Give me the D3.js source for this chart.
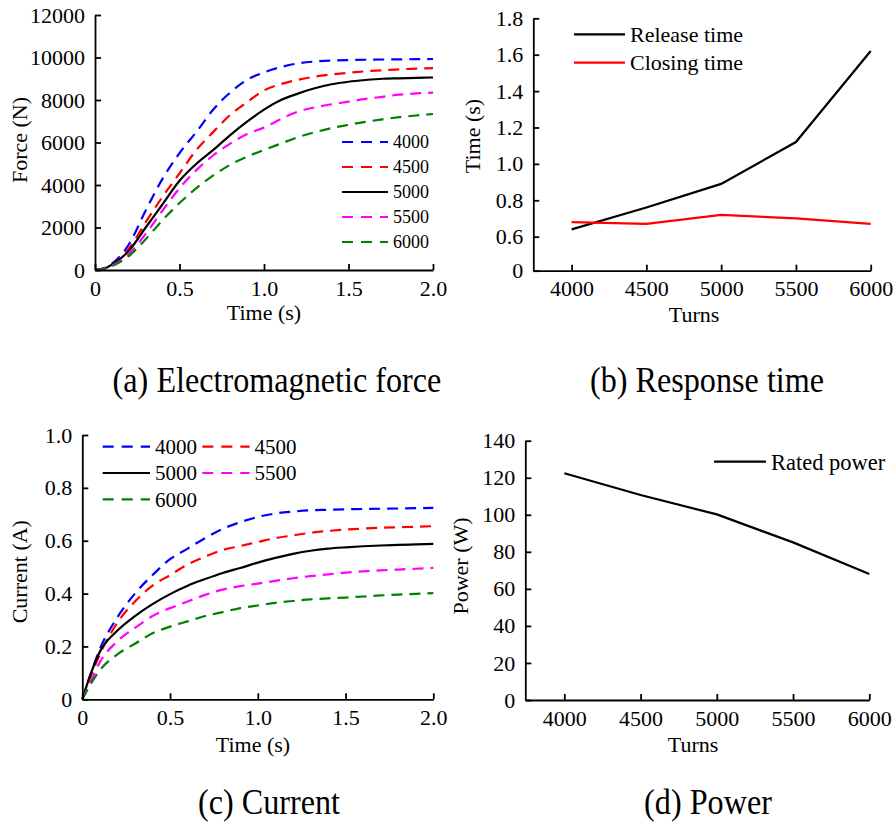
<!DOCTYPE html>
<html>
<head>
<meta charset="utf-8">
<script src="https://cdn.jsdelivr.net/npm/d3@7"></script>
<style>
  body { margin: 0; background: #fff; }
  svg, svg text { font-family: "Liberation Serif", "Times New Roman", serif; }
  svg { display: block; }
</style>
</head>
<body>
<svg id="chart" width="894" height="827"></svg>
<script>
// ---- data ----
const turnLabels = ["4000", "4500", "5000", "5500", "6000"];
const turnColors = ["#0000ff", "#ff0000", "#000000", "#ff00ff", "#008000"];

const timeSteps = [0, 0.05, 0.1, 0.2, 0.3, 0.4, 0.5, 0.6, 0.7, 0.8, 0.9, 1.0,
  1.1, 1.2, 1.3, 1.4, 1.5, 1.6, 1.7, 1.8, 1.9, 2.0];

const force4000 = [0, 80, 300, 1200, 2800, 4300, 5500, 6500, 7550, 8350, 8950, 9300, 9550, 9720, 9810, 9860, 9880, 9895, 9905, 9915, 9920, 9930];
const force4500 = [0, 70, 250, 1000, 2250, 3450, 4550, 5650, 6500, 7300, 7900, 8450, 8750, 8950, 9100, 9200, 9280, 9350, 9400, 9440, 9480, 9500];
const force5000 = [0, 50, 250, 900, 2000, 3100, 4200, 5000, 5650, 6350, 6980, 7550, 8000, 8300, 8550, 8740, 8860, 8940, 9000, 9020, 9040, 9060];
const force5500 = [0, 50, 200, 750, 1700, 2800, 3850, 4700, 5400, 5950, 6400, 6700, 7100, 7450, 7650, 7800, 7920, 8050, 8150, 8250, 8310, 8350];
const force6000 = [0, 40, 180, 650, 1450, 2350, 3150, 3850, 4450, 4950, 5330, 5650, 5950, 6250, 6480, 6680, 6830, 6970, 7090, 7190, 7270, 7340];

const current4000 = [0, 0.1, 0.19, 0.31, 0.4, 0.47, 0.53, 0.57, 0.61, 0.645, 0.67, 0.69, 0.703, 0.71, 0.715, 0.717, 0.719, 0.72, 0.721, 0.722, 0.723, 0.724];
const current4500 = [0, 0.09, 0.17, 0.29, 0.37, 0.43, 0.47, 0.51, 0.54, 0.565, 0.58, 0.595, 0.61, 0.62, 0.63, 0.637, 0.642, 0.646, 0.649, 0.651, 0.653, 0.655];
const current5000 = [0, 0.1, 0.18, 0.26, 0.315, 0.36, 0.398, 0.43, 0.455, 0.478, 0.497, 0.517, 0.535, 0.55, 0.562, 0.57, 0.575, 0.579, 0.582, 0.584, 0.586, 0.588];
const current5500 = [0, 0.07, 0.14, 0.22, 0.27, 0.315, 0.345, 0.37, 0.395, 0.415, 0.428, 0.438, 0.448, 0.458, 0.466, 0.473, 0.479, 0.484, 0.488, 0.491, 0.494, 0.497];
const current6000 = [0, 0.06, 0.11, 0.17, 0.21, 0.25, 0.275, 0.295, 0.315, 0.33, 0.345, 0.355, 0.365, 0.372, 0.378, 0.382, 0.385, 0.389, 0.393, 0.396, 0.399, 0.402];

const turns = [4000, 4500, 5000, 5500, 6000];
const releaseTime = [0.64, 0.76, 0.89, 1.12, 1.62];
const closingTime = [0.68, 0.67, 0.72, 0.70, 0.67];
const ratedPower = [122.4, 110.7, 100.2, 85.1, 68.0];

const timeTicks = [0, 0.5, 1.0, 1.5, 2.0];
const forceTicks = [0, 2000, 4000, 6000, 8000, 10000, 12000];
const responseTicks = [0.6, 0.8, 1.0, 1.2, 1.4, 1.6, 1.8];
const currentTicks = [0, 0.2, 0.4, 0.6, 0.8, 1.0];
const powerTicks = [0, 20, 40, 60, 80, 100, 120, 140];
const turnTicks = [4000, 4500, 5000, 5500, 6000];

// ---- drawing ----
const FONT = "Liberation Serif";
const svg = d3.select("#chart");
svg.append("rect").attr("width", 894).attr("height", 827).attr("fill", "#fff");

const fmt1 = d => d === 0 ? "0" : d3.format(".1f")(d);

function drawAxes(g, x, y, xTicks, yTicks, xFmt, yFmt, box) {
  const xAxis = g.append("g")
    .attr("transform", `translate(0,${box.bottom})`)
    .call(d3.axisBottom(x).tickValues(xTicks).tickFormat(xFmt)
      .tickSizeInner(-6).tickSizeOuter(0).tickPadding(10));
  const yAxis = g.append("g")
    .attr("transform", `translate(${box.left},0)`)
    .call(d3.axisLeft(y).tickValues(yTicks).tickFormat(yFmt)
      .tickSizeInner(-6).tickSizeOuter(0).tickPadding(10));
  [xAxis, yAxis].forEach(a => {
    a.attr("font-family", FONT).attr("font-size", 22);
    a.selectAll("path, line").attr("stroke", "#000").attr("stroke-width", 1.8);
    a.selectAll("text").attr("fill", "#000").attr("font-family", FONT);
  });
}

function axisTitles(g, xt, xc, xb, yt, yx, yc) {
  g.append("text").attr("x", xc).attr("y", xb).attr("text-anchor", "middle")
    .attr("font-family", FONT).attr("font-size", 22).text(xt);
  g.append("text").attr("transform", `translate(${yx},${yc}) rotate(-90)`)
    .attr("text-anchor", "middle").attr("font-family", FONT).attr("font-size", 22).text(yt);
}

function drawSeries(g, x, y, xs, rows, curve) {
  const line = d3.line().x(d => x(d[0])).y(d => y(d[1])).curve(curve);
  rows.forEach(r => {
    g.append("path")
      .datum(xs.map((v, i) => [v, r.values[i]]))
      .attr("fill", "none")
      .attr("stroke", r.color)
      .attr("stroke-width", 2.2)
      .attr("stroke-dasharray", r.dashed ? "11,7" : null)
      .attr("d", line);
  });
}

function legendItem(g, r, x0, x1, y, size) {
  g.append("line").attr("x1", x0).attr("x2", x1).attr("y1", y).attr("y2", y)
    .attr("stroke", r.color).attr("stroke-width", 2.2)
    .attr("stroke-dasharray", r.dashed ? "11,8" : null);
  g.append("text").attr("x", x1 + 5).attr("y", y).attr("dy", "0.35em")
    .attr("font-family", FONT).attr("font-size", size).text(r.name);
}

// captions in the figure are a little taller than wide, so squeeze them a bit
function caption(text, cx, by) {
  svg.append("text")
    .attr("transform", `translate(${cx},${by}) scale(0.92,1)`)
    .attr("text-anchor", "middle")
    .attr("font-family", FONT).attr("font-size", 35).text(text);
}

// (a) Electromagnetic force
{
  const box = {left: 95, top: 15, right: 433, bottom: 270};
  const g = svg.append("g");
  const x = d3.scaleLinear().domain([0, 2]).range([box.left, box.right]);
  const y = d3.scaleLinear().domain([0, 12000]).range([box.bottom, box.top]);
  const rows = [force4000, force4500, force5000, force5500, force6000].map((v, i) => ({
    name: turnLabels[i], color: turnColors[i], values: v, dashed: i !== 2
  }));
  drawSeries(g, x, y, timeSteps, rows, d3.curveMonotoneX);
  drawAxes(g, x, y, timeTicks, forceTicks, fmt1, d3.format("d"), box);
  axisTitles(g, "Time (s)", 264, 320, "Force (N)", 27, 140);
  rows.forEach((r, i) => legendItem(g, r, 342, 388, 142 + i * 25, 18));
  caption("(a) Electromagnetic force", 277, 392);
}

// (b) Response time
{
  const box = {left: 533.3, top: 18.3, right: 870.7, bottom: 270.7};
  const g = svg.append("g");
  const yBreak = 0.413;
  const x = d3.scaleLinear().domain([3744, 6000]).range([box.left, box.right]);
  const y = d3.scaleLinear().domain([yBreak, 1.8]).range([box.bottom, box.top]);
  const rows = [
    {name: "Release time", color: "#000000", values: releaseTime},
    {name: "Closing time", color: "#ff0000", values: closingTime}
  ];
  drawSeries(g, x, y, turns, rows, d3.curveLinear);
  drawAxes(g, x, y, turnTicks, [yBreak].concat(responseTicks), d3.format("d"),
    d => d === yBreak ? "0" : d3.format(".1f")(d), box);
  axisTitles(g, "Turns", 694, 322, "Time (s)", 480, 136);
  rows.forEach((r, i) => legendItem(g, r, 574, 625, 34.3 + i * 28.4, 22));
  caption("(b) Response time", 707, 392);
}

// (c) Current
{
  const box = {left: 82.3, top: 435, right: 433.3, bottom: 699.3};
  const g = svg.append("g");
  const x = d3.scaleLinear().domain([0, 2]).range([box.left, box.right]);
  const y = d3.scaleLinear().domain([0, 1]).range([box.bottom, box.top]);
  const rows = [current4000, current4500, current5000, current5500, current6000].map((v, i) => ({
    name: turnLabels[i], color: turnColors[i], values: v, dashed: i !== 2
  }));
  drawSeries(g, x, y, timeSteps, rows, d3.curveMonotoneX);
  drawAxes(g, x, y, timeTicks, currentTicks, fmt1, fmt1, box);
  axisTitles(g, "Time (s)", 253, 751.7, "Current (A)", 27, 571.7);
  rows.forEach((r, i) => {
    const col = i % 2, row = Math.floor(i / 2);
    legendItem(g, r, 102.7 + col * 99.6, 150 + col * 99.6, 446.7 + row * 26.3, 21);
  });
  caption("(c) Current", 269, 814);
}

// (d) Power
{
  const box = {left: 525.3, top: 440.7, right: 869.3, bottom: 700};
  const g = svg.append("g");
  const x = d3.scaleLinear().domain([3744, 6000]).range([box.left, box.right]);
  const y = d3.scaleLinear().domain([0, 140]).range([box.bottom, box.top]);
  const rows = [{name: "Rated power", color: "#000000", values: ratedPower}];
  drawSeries(g, x, y, turns, rows, d3.curveLinear);
  drawAxes(g, x, y, turnTicks, powerTicks, d3.format("d"), d3.format("d"), box);
  axisTitles(g, "Turns", 693, 751.7, "Power (W)", 468, 566);
  legendItem(g, rows[0], 714, 766, 461.7, 22.5);
  caption("(d) Power", 708, 814);
}
</script>
</body>
</html>
